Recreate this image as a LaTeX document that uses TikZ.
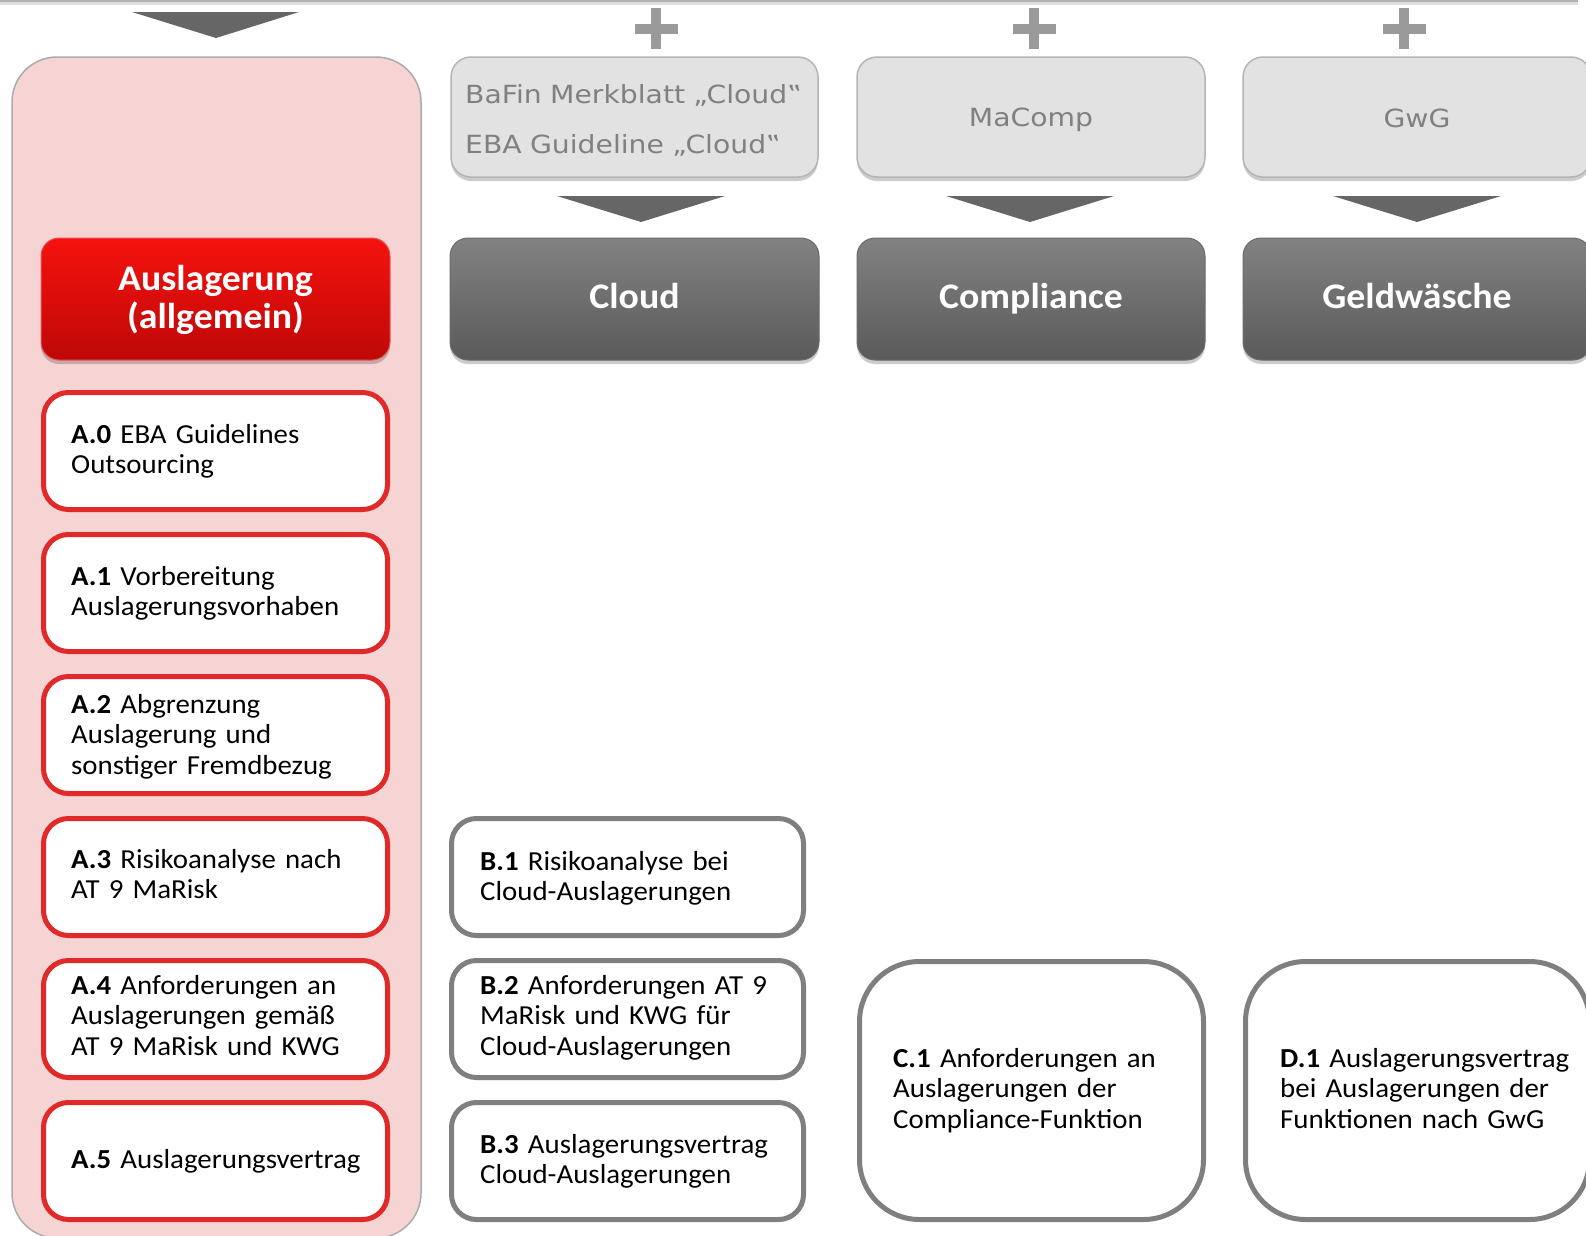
\documentclass[tikz,border=0pt]{standalone}
\usepackage{fontspec}
\setmainfont[FakeStretch=1.05, WordSpace=0.85]{Carlito}
\newfontfamily\verd[FakeStretch=1.13]{DejaVu Sans}
\usetikzlibrary{shadows}
\definecolor{pinkbg}{HTML}{F7D4D4}
\definecolor{panelline}{HTML}{ABABAB}
\definecolor{redtop}{HTML}{F5120E}
\definecolor{redbot}{HTML}{BE0808}
\definecolor{redline}{HTML}{E02A2A}
\definecolor{darktop}{HTML}{828282}
\definecolor{darkbot}{HTML}{5A5A5A}
\definecolor{lightfill}{HTML}{E2E2E2}
\definecolor{lightline}{HTML}{B5B5B5}
\definecolor{lighttext}{HTML}{808080}
\definecolor{tri}{HTML}{666666}
\definecolor{plusgray}{HTML}{9A9A9A}
\definecolor{boxgray}{HTML}{7F7F7F}
\tikzset{
  shad/.style={drop shadow={shadow xshift=0pt, shadow yshift=-4pt, opacity=0.2, fill=black}},
  panel/.style={draw=panelline, line width=1.5pt, fill=pinkbg, rounded corners=45pt, minimum width=409pt, minimum height=1181pt, inner sep=0pt},
  redhead/.style={shad, draw=redline!80, line width=1pt, top color=redtop, bottom color=redbot, rounded corners=18pt, minimum width=349pt, minimum height=122pt, inner sep=0pt},
  darkhead/.style={shad, draw=darkbot!90, line width=1pt, top color=darktop, bottom color=darkbot, rounded corners=18pt, minimum height=122pt, inner sep=0pt},
  lightbox/.style={shad, draw=lightline, line width=1.5pt, fill=lightfill, rounded corners=20pt, minimum height=120pt, inner sep=0pt},
  abox/.style={draw=redline, line width=5pt, fill=white, rounded corners=25pt, minimum width=344pt, minimum height=117pt, inner sep=0pt},
  bbox/.style={draw=boxgray, line width=5pt, fill=white, rounded corners=25pt, minimum width=352pt, minimum height=117pt, inner sep=0pt},
  cbox/.style={draw=boxgray, line width=5pt, fill=white, rounded corners=60pt, minimum width=344pt, minimum height=258pt, inner sep=0pt},
  boxtxt/.style={inner sep=0pt, anchor=base west, text width=330pt, align=left, font=\fontsize{27.5}{30.5}\selectfont},
  headtxt/.style={inner sep=0pt, anchor=base, text=white, align=center, text width=340pt, font=\bfseries\fontsize{36}{38}\selectfont},
  lighttxt/.style={inner sep=0pt, text=lighttext, font=\verd\fontsize{25}{50}\selectfont},
  trifill/.style={fill=tri},
  plusline/.style={draw=plusgray, line width=10pt}
}
\begin{document}
\begin{tikzpicture}[x=1pt,y=-1pt]
\useasboundingbox (0,0) rectangle (1586,1235);
\fill[white] (0,0) rectangle (1586,1235);
% top edge shadow
\fill[black!12] (0,0) rectangle (1578,4.5);
\fill[black!30] (0,0) rectangle (1578,2.2);

% left panel
\node[panel] (pan) at (216.5,647.5) {};
\fill[trifill] (132,12) -- (299,12) -- (216,38) -- cycle;
\node[redhead] (ah) at (215.5,299) {};
\node[headtxt] (aht) at (215.5,290) {Auslagerung\\(allgemein)};

% A boxes
\node[abox] (a0) at (215.5,451) {};
\node[boxtxt] (a0t) at (71,443) {\textbf{A.0} EBA Guidelines\\Outsourcing};
\node[abox] (a1) at (215.5,593) {};
\node[boxtxt] (a1t) at (71,585) {\textbf{A.1} Vorbereitung\\Auslagerungsvorhaben};
\node[abox] (a2) at (215.5,735) {};
\node[boxtxt] (a2t) at (71,713) {\textbf{A.2} Abgrenzung\\Auslagerung und\\sonstiger Fremdbezug};
\node[abox] (a3) at (215.5,877) {};
\node[boxtxt] (a3t) at (71,868) {\textbf{A.3} Risikoanalyse nach\\AT 9 MaRisk};
\node[abox] (a4) at (215.5,1019) {};
\node[boxtxt] (a4t) at (71,994) {\textbf{A.4} Anforderungen an\\Auslagerungen gemäß\\AT 9 MaRisk und KWG};
\node[abox] (a5) at (215.5,1161) {};
\node[boxtxt] (a5t) at (71,1168) {\textbf{A.5} Auslagerungsvertrag};

% Cloud column
\draw[plusline] (634.5,28.5) -- (677.5,28.5);
\draw[plusline] (656,8) -- (656,49);
\node[lightbox, minimum width=367pt] (bl) at (634.5,117) {};
\node[lighttxt, anchor=base west, align=left, text width=350pt] (blt) at (465,103) {BaFin Merkblatt „Cloud‟\\EBA Guideline „Cloud‟};
\fill[trifill] (557,196) -- (725,196) -- (641,222) -- cycle;
\node[darkhead, minimum width=369pt] (bh) at (634.5,299) {};
\node[headtxt] (bht) at (634.5,308) {Cloud};
\node[bbox] (b1) at (627.5,877) {};
\node[boxtxt] (b1t) at (480,870) {\textbf{B.1} Risikoanalyse bei\\Cloud-Auslagerungen};
\node[bbox] (b2) at (627.5,1019) {};
\node[boxtxt] (b2t) at (480,994) {\textbf{B.2} Anforderungen AT 9\\MaRisk und KWG für\\Cloud-Auslagerungen};
\node[bbox] (b3) at (627.5,1161) {};
\node[boxtxt] (b3t) at (480,1153) {\textbf{B.3} Auslagerungsvertrag\\Cloud-Auslagerungen};

% Compliance column
\draw[plusline] (1012.5,28.5) -- (1055.5,28.5);
\draw[plusline] (1034,8) -- (1034,49);
\node[lightbox, minimum width=348pt] (cl) at (1031,117) {};
\node[lighttxt, anchor=base] (clt) at (1031,126) {MaComp};
\fill[trifill] (946,196) -- (1114,196) -- (1030,222) -- cycle;
\node[darkhead, minimum width=348pt] (ch) at (1031,299) {};
\node[headtxt] (cht) at (1031,308) {Compliance};
\node[cbox] (c1) at (1031.5,1090.5) {};
\node[boxtxt] (c1t) at (893,1067) {\textbf{C.1} Anforderungen an\\Auslagerungen der\\Compliance-Funktion};

% GwG column
\draw[plusline] (1382.5,28.5) -- (1425.5,28.5);
\draw[plusline] (1404,8) -- (1404,49);
\node[lightbox, minimum width=348pt] (dl) at (1417,117) {};
\node[lighttxt, anchor=base] (dlt) at (1417,127) {GwG};
\fill[trifill] (1333,196) -- (1501,196) -- (1417,222) -- cycle;
\node[darkhead, minimum width=348pt] (dh) at (1417,299) {};
\node[headtxt] (dht) at (1417,308) {Geldwäsche};
\node[cbox] (d1) at (1417.5,1090.5) {};
\node[boxtxt] (d1t) at (1280,1067) {\textbf{D.1} Auslagerungsvertrag\\bei Auslagerungen der\\Funktionen nach GwG};
\end{tikzpicture}
\end{document}
